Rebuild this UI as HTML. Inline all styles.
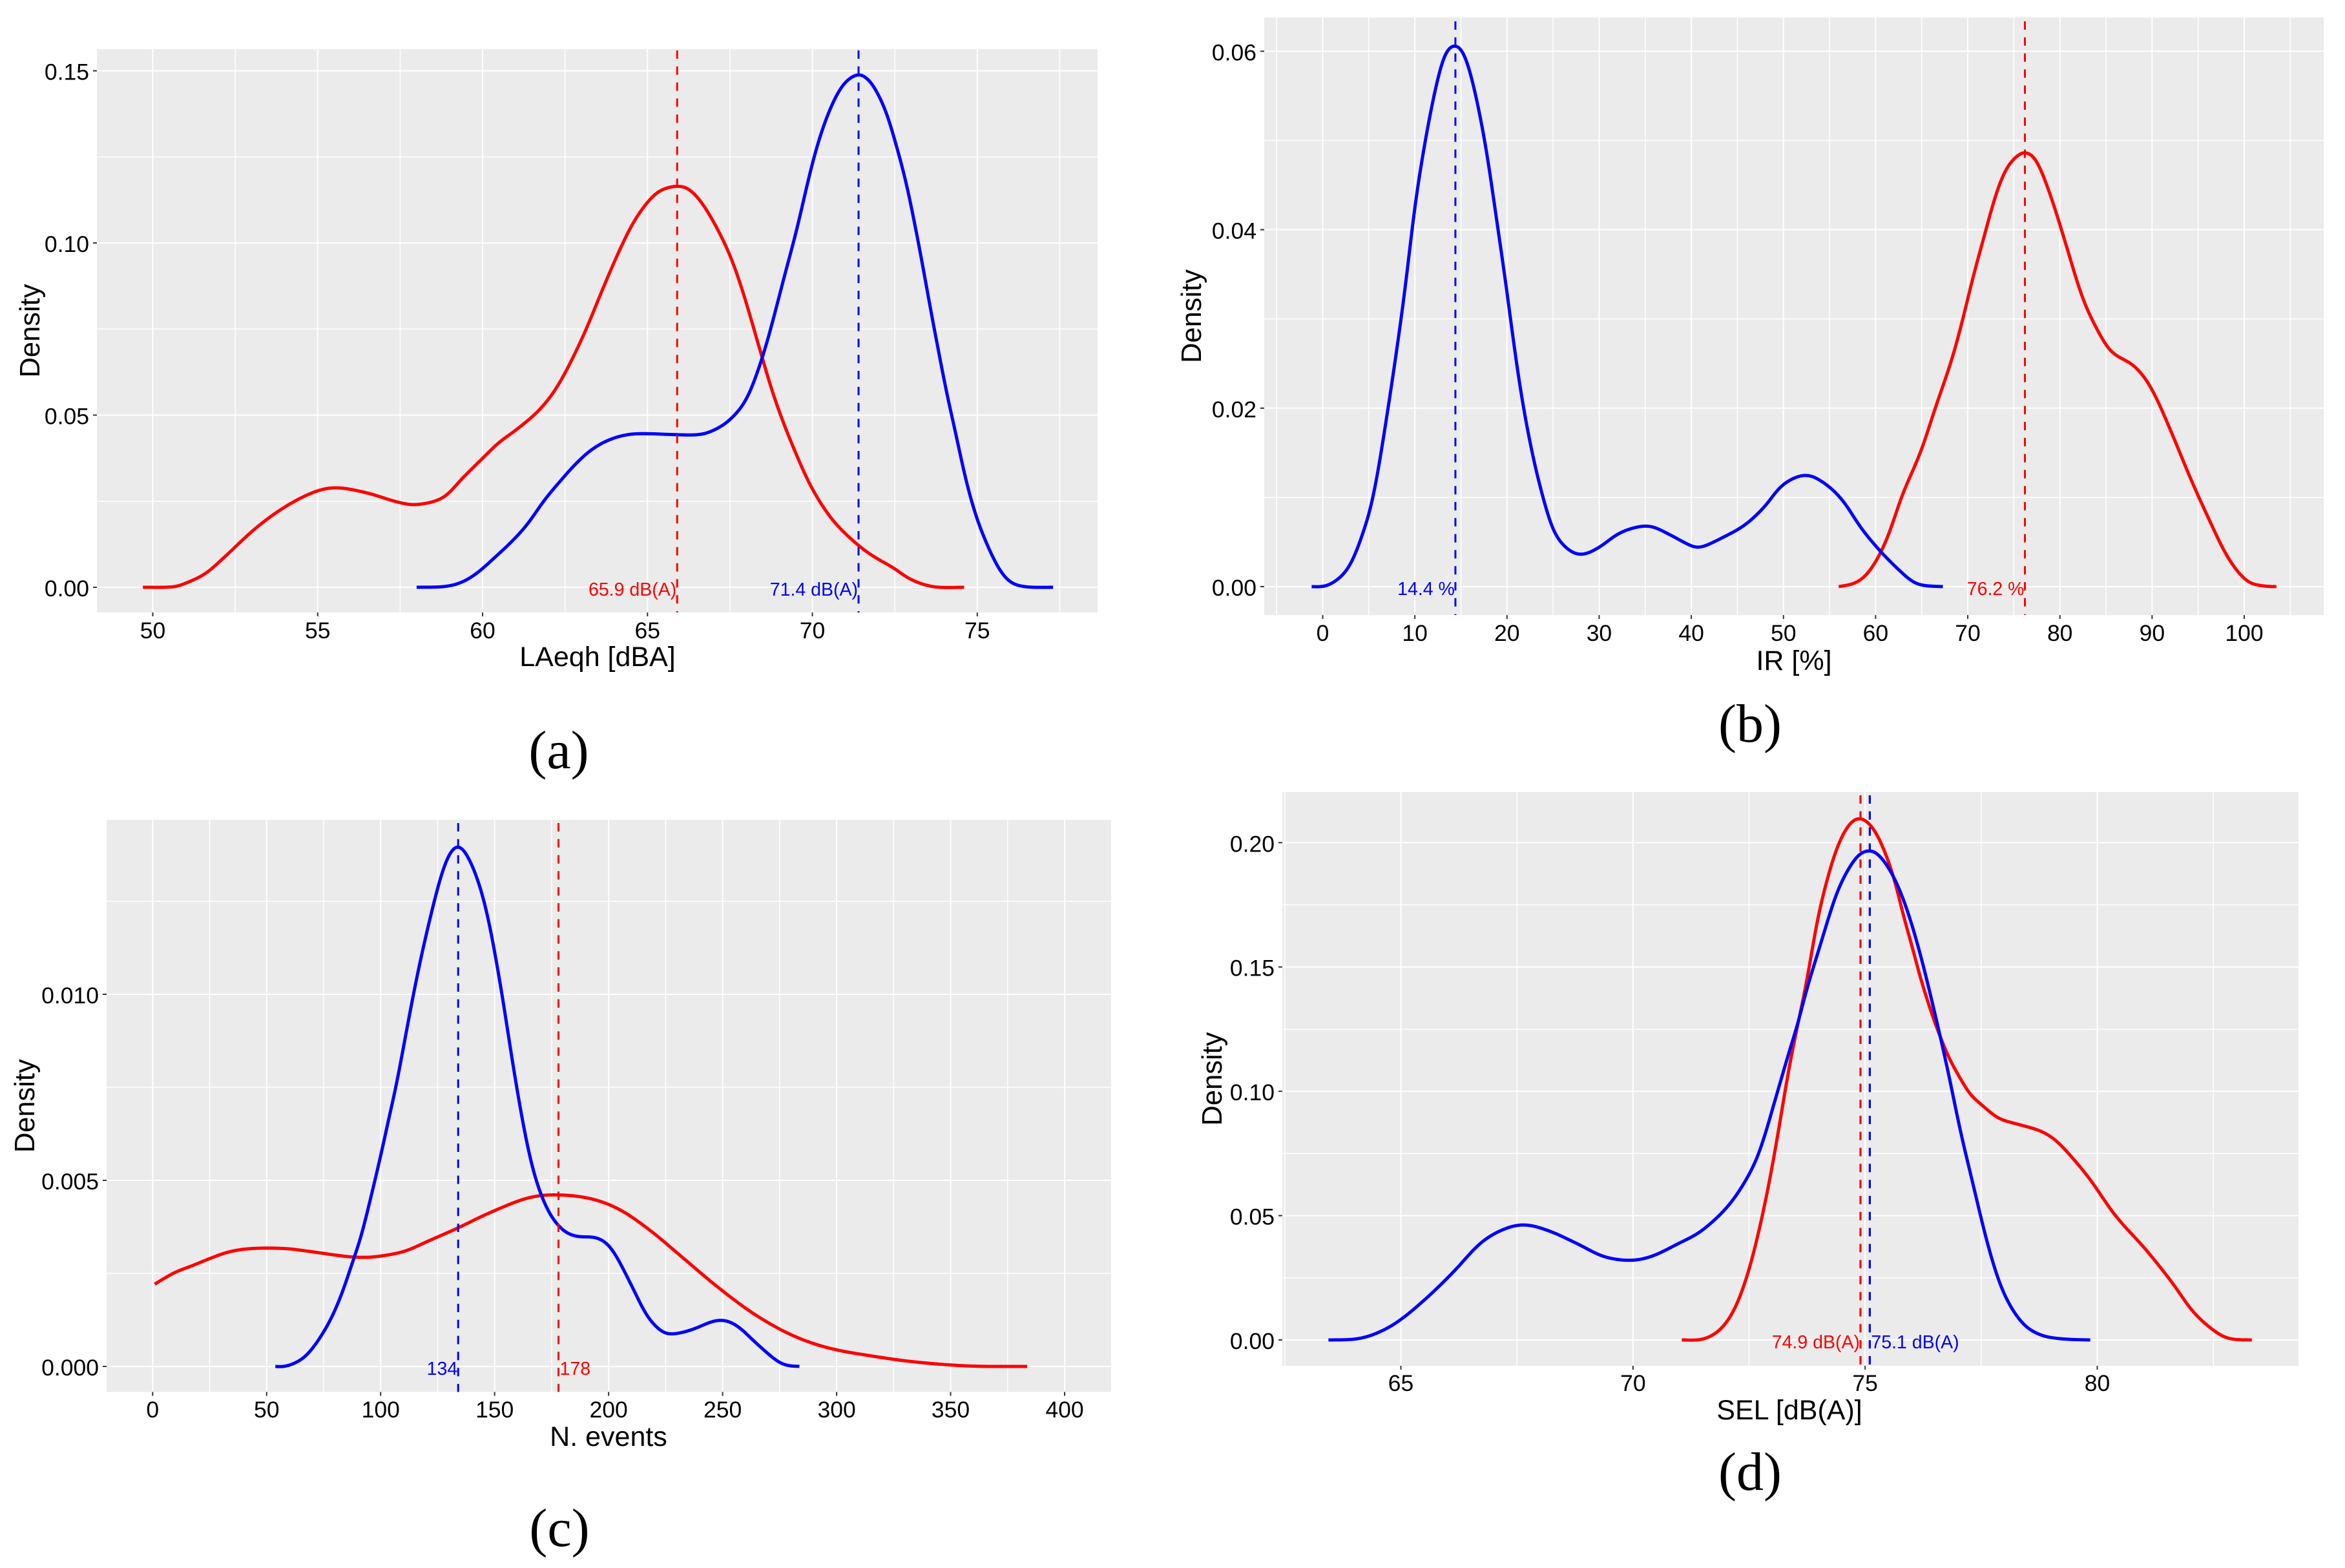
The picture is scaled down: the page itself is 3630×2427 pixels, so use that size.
<!DOCTYPE html>
<html lang="en">
<head>
<meta charset="utf-8">
<title>Density plots of noise indicators</title>
<style>
html,body{margin:0;padding:0;background:#fff;}
svg{display:block;}
text{font-family:"Liberation Sans",sans-serif;fill:#000;}
.cap{font-family:"Liberation Serif",serif;font-size:84px;}
</style>
</head>
<body>
<svg id="figure" xmlns="http://www.w3.org/2000/svg" width="3630" height="2427" viewBox="0 0 3630 2427">
<rect x="0" y="0" width="3630" height="2427" fill="#fff"/>
<text class="cap" x="865" y="1189" text-anchor="middle">(a)</text>
<text class="cap" x="2709" y="1148" text-anchor="middle">(b)</text>
<text class="cap" x="866" y="2393" text-anchor="middle">(c)</text>
<text class="cap" x="2709" y="2306" text-anchor="middle">(d)</text>
</svg>
<script>
/* Panel (a) LAeqh */
const aXTicks = [50,55,60,65,70,75];
const aYTicks = ["0.00","0.05","0.10","0.15"];
const aRedX = [49.7,50.6,51,51.6,52.2,53.1,54,54.9,55.6,56.5,57.4,58,58.8,59.4,60.1,60.5,61.03,61.68,62.18,62.63,63.13,63.58,64.03,64.48,64.88,65.28,65.63,65.88,66.18,66.48,66.78,67.08,67.38,67.63,67.93,68.18,68.48,68.78,69.08,69.48,69.88,70.28,70.73,71.33,71.83,72.43,73,73.7,74.6];
const aRedY = [0,0.0001,0.0012,0.004,0.009,0.017,0.0233,0.0277,0.0289,0.0274,0.0248,0.024,0.026,0.0318,0.0384,0.0421,0.0458,0.0511,0.057,0.0646,0.0747,0.0852,0.0953,0.1044,0.1104,0.1146,0.1161,0.1165,0.1161,0.1137,0.1098,0.1048,0.0991,0.0933,0.0847,0.0766,0.0666,0.057,0.0488,0.0393,0.0307,0.024,0.0182,0.0127,0.0091,0.0058,0.0022,0.0001,0];
const aBlueX = [58,59,59.7,60.5,61.03,61.43,61.88,62.38,62.78,63.28,63.83,64.43,65.03,65.63,66.53,67.03,67.53,68.03,68.48,68.78,69.18,69.53,69.78,70.13,70.53,70.93,71.33,71.53,71.83,72.23,72.53,72.83,73.08,73.33,73.58,73.83,74.08,74.33,74.63,74.93,75.23,75.63,76,76.5,77.3];
const aBlueY = [0,0.0004,0.0032,0.0098,0.0147,0.0192,0.0254,0.0311,0.0354,0.0398,0.0428,0.0444,0.0446,0.0444,0.0443,0.0457,0.0489,0.0551,0.0666,0.0766,0.0914,0.1039,0.1144,0.1278,0.1388,0.146,0.1489,0.1487,0.146,0.1383,0.1288,0.1182,0.1067,0.0943,0.0809,0.0684,0.056,0.0455,0.0321,0.0216,0.0139,0.0058,0.0015,0.0001,0];
const aRedMean = 65.9;
const aBlueMean = 71.4;
const aRedLabel = "65.9 dB(A)";
const aBlueLabel = "71.4 dB(A)";

/* Panel (b) IR */
const bXTicks = [0,10,20,30,40,50,60,70,80,90,100];
const bYTicks = ["0.00","0.02","0.04","0.06"];
const bBlueX = [-1.2,0.7,2.8,4.4,5.6,7.2,8.4,9.12,9.88,10.7,11.74,12.9,13.6,14.35,15.12,15.81,16.5,17.09,17.9,18.84,19.77,20.2,21.4,22.7,23.9,25.1,26.7,28.2,30,32.4,35.3,37.7,39.7,41,43.4,45.8,47.9,49.9,52.3,54.3,56.4,58.4,60.4,62.5,64.5,67.3];
const bBlueY = [0,0.0002,0.0021,0.0061,0.0106,0.0207,0.0292,0.0348,0.0418,0.0474,0.0534,0.0587,0.0603,0.0607,0.0602,0.0584,0.0556,0.0527,0.0481,0.0413,0.0348,0.0314,0.0224,0.0151,0.01,0.0061,0.0041,0.0036,0.0044,0.0061,0.0068,0.0058,0.0047,0.0044,0.0055,0.0069,0.0089,0.0114,0.0125,0.0117,0.0097,0.0066,0.0041,0.0019,0.0003,0];
const bRedX = [56,58,59.6,61.3,62.9,64.9,66.5,68.2,69.4,70.6,71.8,73,74.2,75.5,76.3,77.5,79.1,80.7,82.4,84,85.6,88.1,90,92.1,94.1,96.2,98.2,100.2,101.9,103.5];
const bRedY = [0,0.0005,0.0021,0.0055,0.0103,0.0151,0.0201,0.0252,0.0297,0.0348,0.0393,0.0438,0.0469,0.0484,0.0487,0.0477,0.0435,0.0382,0.0325,0.0289,0.0263,0.0247,0.0221,0.0173,0.0123,0.0075,0.0033,0.0007,0.0001,0];
const bRedMean = 76.2;
const bBlueMean = 14.4;
const bRedLabel = "76.2 %";
const bBlueLabel = "14.4 %";

/* Panel (c) N. events */
const cXTicks = [0,50,100,150,200,250,300,350,400];
const cYTicks = ["0.000","0.005","0.010"];
const cRedX = [0.9,9.5,17.1,24.7,33.5,43.7,57.6,67.7,84.2,93,100.6,110.8,120.9,133.5,147.5,164.1,177.2,192,205,218.3,231.4,247.7,264,280.4,296.8,316.5,336,359,383.6];
const cRedY = [0.00221,0.00252,0.0027,0.00289,0.00308,0.00317,0.00317,0.0031,0.00296,0.00293,0.00297,0.0031,0.00337,0.00371,0.00412,0.00452,0.00461,0.00451,0.00421,0.00365,0.00298,0.00214,0.0014,0.00084,0.00049,0.00027,0.00011,0.00001,0];
const cBlueX = [53.8,59.5,67.7,76.6,82.9,88,91.1,94.9,98.1,100.6,103.8,106.8,115,121.5,128,133.7,139.6,146.1,152.7,159.2,165.8,172.3,178.9,185.4,195.2,201.8,210,216.6,223,228,236.2,247.7,255.9,265.7,275.6,283.7];
const cBlueY = [0,0.00002,0.00031,0.00109,0.00194,0.00287,0.00341,0.00434,0.00516,0.00581,0.00674,0.00753,0.0102,0.012,0.01348,0.014,0.01354,0.01234,0.0102,0.00766,0.00552,0.00432,0.00372,0.0035,0.00345,0.00312,0.00218,0.00138,0.00095,0.00087,0.00098,0.00124,0.00111,0.00057,0.00008,0];
const cRedMean = 178;
const cBlueMean = 134;
const cRedLabel = "178";
const cBlueLabel = "134";

/* Panel (d) SEL */
const dXTicks = [65,70,75,80];
const dYTicks = ["0.00","0.05","0.10","0.15","0.20"];
const dRedX = [71.05,71.53,71.93,72.26,72.58,72.9,73.11,73.22,73.34,73.55,73.76,73.87,74.01,74.15,74.29,74.48,74.66,74.78,74.89,75.03,75.22,75.36,75.54,75.68,75.82,76.01,76.15,76.29,76.47,76.63,76.8,77.03,77.26,77.49,77.86,78.24,78.7,78.98,79.26,79.82,80.39,81.03,81.6,82.07,82.56,82.88,83.33];
const dRedY = [0,0.0004,0.0051,0.0153,0.0336,0.06,0.0816,0.0936,0.1075,0.127,0.1456,0.1586,0.1725,0.1829,0.1924,0.2019,0.2075,0.2095,0.2099,0.2088,0.2045,0.1993,0.1906,0.182,0.1707,0.1586,0.1482,0.1396,0.1292,0.1214,0.1136,0.1058,0.0988,0.0949,0.0893,0.087,0.0846,0.082,0.0775,0.0652,0.05,0.0367,0.0234,0.0112,0.0031,0.0004,0];
const dBlueX = [63.44,64.05,64.53,65,65.58,66.14,66.7,67.2,67.67,68.2,68.8,69.36,69.92,70.4,70.97,71.5,72.1,72.58,72.83,72.99,73.18,73.38,73.55,73.73,73.96,74.17,74.38,74.61,74.85,75.03,75.2,75.4,75.59,75.78,75.96,76.15,76.33,76.54,76.7,76.87,76.98,77.08,77.33,77.65,77.97,78.37,78.78,79.26,79.85];
const dBlueY = [0,0.0004,0.0031,0.0082,0.0173,0.0275,0.0387,0.0444,0.0463,0.0438,0.0387,0.0336,0.032,0.0336,0.0387,0.0442,0.055,0.0693,0.0816,0.092,0.1041,0.117,0.127,0.1404,0.1543,0.1672,0.1794,0.1885,0.195,0.1967,0.1965,0.1928,0.1872,0.1794,0.1699,0.1578,0.1448,0.1283,0.1153,0.1006,0.0902,0.0816,0.0622,0.0377,0.0194,0.0071,0.002,0.0004,0];
const dRedMean = 74.9;
const dBlueMean = 75.1;
const dRedLabel = "74.9 dB(A)";
const dBlueLabel = "75.1 dB(A)";

const NS = "http://www.w3.org/2000/svg";
const root = document.getElementById("figure");

function make(tag, attrs, parent) {
  const el = document.createElementNS(NS, tag);
  for (const k in attrs) el.setAttribute(k, attrs[k]);
  parent.appendChild(el);
  return el;
}

/* Fits a spline through the pixel points, then lightly blurs it so reading noise does not show as kinks. */
function smoothPath(px, py) {
  const sx = [], sy = [];
  for (let i = 0; i < px.length - 1; i++) {
    const a = Math.max(i - 1, 0), b = Math.min(i + 2, px.length - 1);
    const x0 = px[i], x1 = px[i + 1], y0 = py[i], y1 = py[i + 1];
    const m0x = (x1 - px[a]) / 2, m1x = (px[b] - x0) / 2;
    const m0y = (y1 - py[a]) / 2, m1y = (py[b] - y0) / 2;
    for (let k = 0; k < 10; k++) {
      const t = k / 10, t2 = t * t, t3 = t2 * t;
      const h00 = 2 * t3 - 3 * t2 + 1, h10 = t3 - 2 * t2 + t, h01 = -2 * t3 + 3 * t2, h11 = t3 - t2;
      sx.push(h00 * x0 + h10 * m0x + h01 * x1 + h11 * m1x);
      sy.push(h00 * y0 + h10 * m0y + h01 * y1 + h11 * m1y);
    }
  }
  sx.push(px[px.length - 1]);
  sy.push(py[py.length - 1]);

  const step = 2;
  const ux = [], uy = [];
  let j = 0;
  for (let x = px[0]; x < px[px.length - 1]; x += step) {
    while (j < sx.length - 2 && sx[j + 1] < x) j++;
    const span = sx[j + 1] - sx[j];
    const f = span > 0 ? Math.min(1, Math.max(0, (x - sx[j]) / span)) : 0;
    ux.push(x);
    uy.push(sy[j] + (sy[j + 1] - sy[j]) * f);
  }
  ux.push(px[px.length - 1]);
  uy.push(py[py.length - 1]);

  const sigma = 3;
  let d = "";
  for (let i = 0; i < ux.length; i++) {
    const w = Math.min(i, ux.length - 1 - i, 3 * sigma);
    let sum = 0, tot = 0;
    for (let q = -w; q <= w; q++) {
      const g = Math.exp(-(q * q) / (2 * sigma * sigma));
      sum += uy[i + q] * g;
      tot += g;
    }
    d += (i ? "L" : "M") + ux[i].toFixed(1) + " " + (sum / tot).toFixed(2);
  }
  return d;
}

function drawPanel(p) {
  const xTickVals = p.xTicks;
  const yTickVals = p.yTicks.map(Number);
  const sx = v => p.xA + (v - xTickVals[0]) * (p.xB - p.xA) / (xTickVals[xTickVals.length - 1] - xTickVals[0]);
  const sy = v => p.yA + (v - yTickVals[0]) * (p.yB - p.yA) / (yTickVals[yTickVals.length - 1] - yTickVals[0]);

  const g = make("g", {}, root);
  
  

  const bg = make("rect", {x: p.l, y: p.t, width: p.r - p.l, height: p.b - p.t, fill: "#EBEBEB"}, g);
  
  

  const xStep = xTickVals[1] - xTickVals[0];
  const yStep = yTickVals[1] - yTickVals[0];

  for (let i = -1; i < xTickVals.length; i++) {
    const x = sx(xTickVals[0] + (i + 0.5) * xStep);
    if (x <= p.l || x >= p.r) continue;
    const el = make("line", {x1: x, x2: x, y1: p.t, y2: p.b, stroke: "#fff", "stroke-width": 1.5}, g);
    
    
  }
  for (let i = -1; i < yTickVals.length; i++) {
    const y = sy(yTickVals[0] + (i + 0.5) * yStep);
    if (y <= p.t || y >= p.b) continue;
    const el = make("line", {x1: p.l, x2: p.r, y1: y, y2: y, stroke: "#fff", "stroke-width": 1.5}, g);
    
    
  }

  xTickVals.forEach(v => {
    const x = sx(v);
    const line = make("line", {x1: x, x2: x, y1: p.t, y2: p.b, stroke: "#fff", "stroke-width": 2}, g);
    
    
    const tick = make("line", {x1: x, x2: x, y1: p.b, y2: p.b + 6, stroke: "#333", "stroke-width": 2}, g);
    
    
    const label = make("text", {x: x, y: p.xLabelY, "text-anchor": "middle", "font-size": 35.5}, g);
    label.textContent = String(v);
    
    
  });

  p.yTicks.forEach(s => {
    const y = sy(Number(s));
    const line = make("line", {x1: p.l, x2: p.r, y1: y, y2: y, stroke: "#fff", "stroke-width": 2}, g);
    
    
    const tick = make("line", {x1: p.l - 6, x2: p.l, y1: y, y2: y, stroke: "#333", "stroke-width": 2}, g);
    
    
    const label = make("text", {x: p.l - 12, y: y + 14, "text-anchor": "end", "font-size": 35.5}, g);
    label.textContent = s;
    
    
  });

  const redCurve = make("path", {d: smoothPath(p.redX.map(sx), p.redY.map(sy)), fill: "none", stroke: "#FF0000", "stroke-width": 5, "stroke-linejoin": "round"}, g);
  
  

  const blueCurve = make("path", {d: smoothPath(p.blueX.map(sx), p.blueY.map(sy)), fill: "none", stroke: "#0000FF", "stroke-width": 5, "stroke-linejoin": "round"}, g);
  
  

  const redLine = make("line", {x1: sx(p.redMean), x2: sx(p.redMean), y1: p.vTop, y2: p.b, stroke: "#FF0000", "stroke-width": p.dashW, "stroke-dasharray": "13 11.8"}, g);
  
  

  const blueLine = make("line", {x1: sx(p.blueMean), x2: sx(p.blueMean), y1: p.vTop, y2: p.b, stroke: "#0000FF", "stroke-width": p.dashW, "stroke-dasharray": "13 11.8"}, g);
  
  

  const redText = make("text", {x: sx(p.redMean) + (p.redAnchor === "start" ? 2 : -1), y: sy(0) + 13, "text-anchor": p.redAnchor, "font-size": 28.5, fill: "#FF0000", style: "fill:#FF0000"}, g);
  redText.textContent = p.redLabel;
  
  

  const blueText = make("text", {x: sx(p.blueMean) + (p.blueAnchor === "start" ? 2 : -1), y: sy(0) + 13, "text-anchor": p.blueAnchor, "font-size": 28.5, fill: "#0000FF", style: "fill:#0000FF"}, g);
  blueText.textContent = p.blueLabel;
  
  

  const xTitle = make("text", {x: p.xTitleX, y: p.xTitleY, "text-anchor": "middle", "font-size": 43}, g);
  xTitle.textContent = p.xTitle;
  
  

  const cy = (p.t + p.b) / 2;
  const yTitle = make("text", {x: p.yTitleX, y: cy, "text-anchor": "middle", "font-size": 43.5, transform: "rotate(-90 " + p.yTitleX + " " + cy + ")"}, g);
  yTitle.textContent = "Density";
  
  
}

drawPanel({id: "a", l: 150, r: 1699, t: 76, b: 948, vTop: 78, xA: 236.5, xB: 1512.8, yA: 909, yB: 109.6,
  xLabelY: 988, xTitle: "LAeqh [dBA]", xTitleX: 925, xTitleY: 1031, yTitleX: 61, dashW: 3,
  xTicks: aXTicks, yTicks: aYTicks, redX: aRedX, redY: aRedY, blueX: aBlueX, blueY: aBlueY,
  redMean: aRedMean, blueMean: aBlueMean, redLabel: aRedLabel, blueLabel: aBlueLabel, redAnchor: "end", blueAnchor: "end"});

drawPanel({id: "b", l: 1957, r: 3597, t: 27, b: 952, vTop: 33, xA: 2047.5, xB: 3474, yA: 908, yB: 79.3,
  xLabelY: 992, xTitle: "IR [%]", xTitleX: 2777, xTitleY: 1037, yTitleX: 1859, dashW: 3,
  xTicks: bXTicks, yTicks: bYTicks, redX: bRedX, redY: bRedY, blueX: bBlueX, blueY: bBlueY,
  redMean: bRedMean, blueMean: bBlueMean, redLabel: bRedLabel, blueLabel: bBlueLabel, redAnchor: "end", blueAnchor: "end"});

drawPanel({id: "c", l: 165, r: 1720, t: 1269, b: 2154.5, vTop: 1274, xA: 236.3, xB: 1648, yA: 2115, yB: 1539,
  xLabelY: 2194, xTitle: "N. events", xTitleX: 942, xTitleY: 2238, yTitleX: 53, dashW: 3,
  xTicks: cXTicks, yTicks: cYTicks, redX: cRedX, redY: cRedY, blueX: cBlueX, blueY: cBlueY,
  redMean: cRedMean, blueMean: cBlueMean, redLabel: cRedLabel, blueLabel: cBlueLabel, redAnchor: "start", blueAnchor: "end"});

drawPanel({id: "d", l: 1985, r: 3558, t: 1226, b: 2114, vTop: 1231, xA: 2168.5, xB: 3246.5, yA: 2074, yB: 1304.3,
  xLabelY: 2153, xTitle: "SEL [dB(A)]", xTitleX: 2770, xTitleY: 2197, yTitleX: 1891, dashW: 3.2,
  xTicks: dXTicks, yTicks: dYTicks, redX: dRedX, redY: dRedY, blueX: dBlueX, blueY: dBlueY,
  redMean: dRedMean, blueMean: dBlueMean, redLabel: dRedLabel, blueLabel: dBlueLabel, redAnchor: "end", blueAnchor: "start"});
</script>
</body>
</html>
